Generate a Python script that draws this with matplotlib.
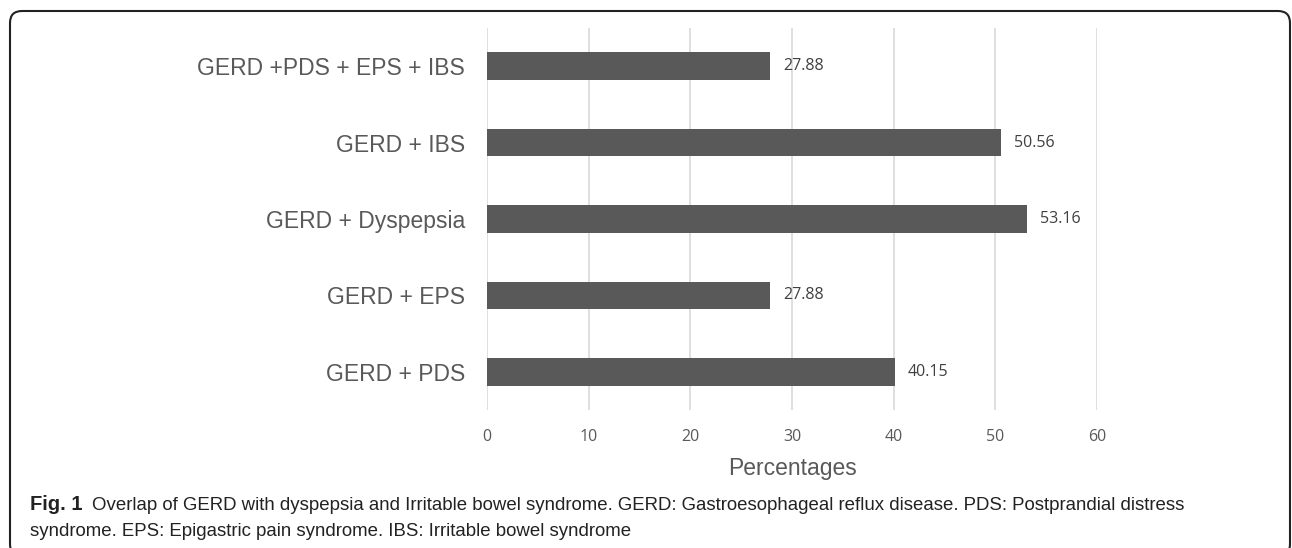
import matplotlib
matplotlib.use("Agg")
import matplotlib.pyplot as plt
from matplotlib.patches import FancyBboxPatch
from matplotlib.transforms import IdentityTransform

categories = ["GERD + PDS", "GERD + EPS", "GERD + Dyspepsia", "GERD + IBS", "GERD +PDS + EPS + IBS"]
values = [40.15, 27.88, 53.16, 50.56, 27.88]
xticks = [0, 10, 20, 30, 40, 50, 60]

W, H = 1292, 548
fig = plt.figure(figsize=(W / 100, H / 100), dpi=100)

# rounded frame (pixel coordinates)
frame = FancyBboxPatch((10, -8), 1280, (H - 11) + 8,
                       boxstyle="round,pad=0,rounding_size=12",
                       transform=IdentityTransform(), fill=False, edgecolor="#222222",
                       linewidth=1.5, clip_on=False)
fig.patches.append(frame)

ax = fig.add_axes([487 / W, 1 - 410 / H, (1097 - 487) / W, (410 - 28) / H])
y = list(range(len(categories)))
ax.barh(y, values, height=0.36, color="#595959", zorder=3)
for yi, v in zip(y, values):
    ax.text(v + 1.25, yi, f"{v:.2f}", va="center", ha="left", fontsize=11.5,
            color="#404040", family="Open Sans")

ax.set_xlim(0, 60)
ax.set_ylim(-0.5, len(categories) - 0.5)
ax.set_xticks(xticks)
ax.set_xticklabels([str(t) for t in xticks], fontsize=11.5, color="#595959", family="Open Sans")
ax.set_yticks(y)
ax.set_yticklabels(categories, fontsize=16.5, color="#595959", family="Liberation Sans")
ax.tick_params(axis="both", length=0)
ax.tick_params(axis="x", pad=14)
ax.tick_params(axis="y", pad=16)
ax.grid(axis="x", color="#d9d9d9", linewidth=1.2, zorder=0)
for s in ax.spines.values():
    s.set_visible(False)
ax.set_xlabel("Percentages", fontsize=16.5, color="#595959", family="Liberation Sans", labelpad=8)

# caption
cap_fs = 13.4
fig.text(30 / W, 1 - 505 / H, "Fig. 1", fontsize=14.5, va="center", ha="left", color="#222222",
         family="Liberation Sans", weight="bold")
fig.text(92 / W, 1 - 505 / H,
         "Overlap of GERD with dyspepsia and Irritable bowel syndrome. GERD: Gastroesophageal reflux disease. PDS: Postprandial distress",
         fontsize=cap_fs, va="center", ha="left", color="#222222", family="Liberation Sans")
fig.text(30 / W, 1 - 532 / H,
         "syndrome. EPS: Epigastric pain syndrome. IBS: Irritable bowel syndrome",
         fontsize=cap_fs, va="center", ha="left", color="#222222", family="Liberation Sans")

fig.savefig("out.png", dpi=100)
